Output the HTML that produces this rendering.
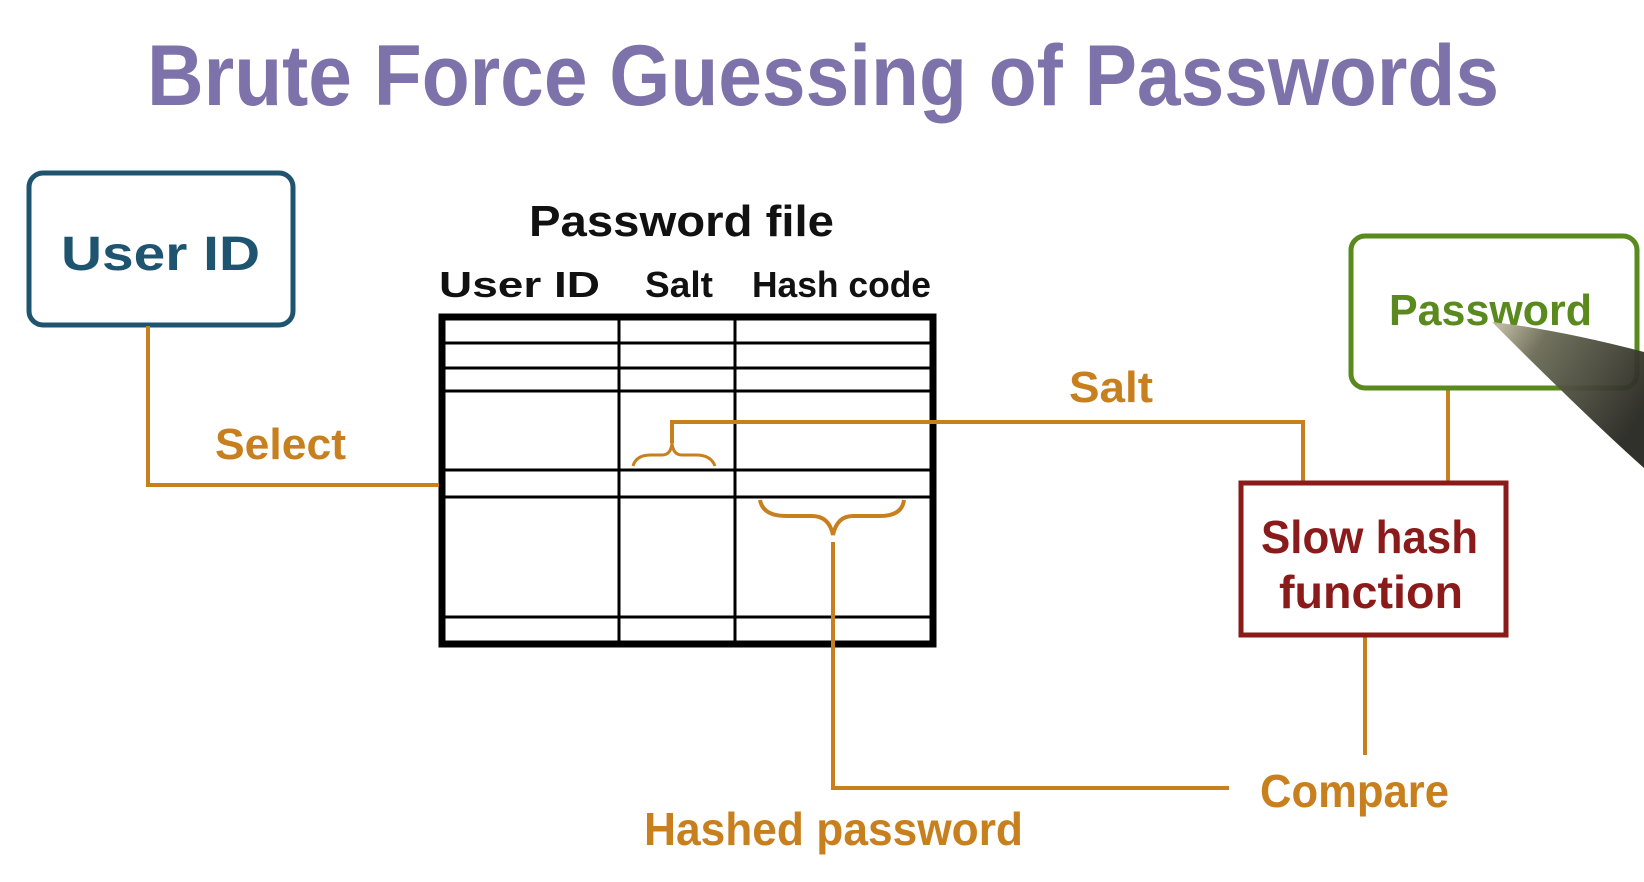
<!DOCTYPE html>
<html><head><meta charset="utf-8"><style>
html,body{margin:0;padding:0;background:#fff;}
svg{display:block;}
text{font-family:"Liberation Sans",sans-serif;font-weight:bold;}
</style></head><body>
<svg width="1644" height="882" viewBox="0 0 1644 882" xmlns="http://www.w3.org/2000/svg">
<rect width="1644" height="882" fill="#fff"/>
<text x="147" y="105" font-size="86" fill="#7d72aa" textLength="1352" lengthAdjust="spacingAndGlyphs">Brute Force Guessing of Passwords</text>

<rect x="29" y="173" width="264" height="152" rx="14" fill="none" stroke="#1e5470" stroke-width="5"/>
<text x="61" y="270" font-size="48" fill="#1e5470" textLength="199" lengthAdjust="spacingAndGlyphs">User ID</text>

<text x="529" y="236" font-size="44" fill="#111" textLength="305" lengthAdjust="spacingAndGlyphs">Password file</text>
<text x="439" y="297" font-size="36" fill="#111" textLength="161" lengthAdjust="spacingAndGlyphs">User ID</text>
<text x="645" y="297" font-size="36" fill="#111" textLength="68" lengthAdjust="spacingAndGlyphs">Salt</text>
<text x="752" y="297" font-size="36" fill="#111" textLength="179" lengthAdjust="spacingAndGlyphs">Hash code</text>

<rect x="442" y="317" width="491" height="327" fill="none" stroke="#000" stroke-width="7"/>
<g stroke="#000" stroke-width="3">
<line x1="444" y1="343" x2="931" y2="343"/>
<line x1="444" y1="368" x2="931" y2="368"/>
<line x1="444" y1="391" x2="931" y2="391"/>
<line x1="444" y1="470" x2="931" y2="470"/>
<line x1="444" y1="497" x2="931" y2="497"/>
<line x1="444" y1="617" x2="931" y2="617"/>
<line x1="619" y1="320" x2="619" y2="642"/>
<line x1="735" y1="320" x2="735" y2="642"/>
</g>

<g fill="none" stroke="#c8801e" stroke-width="4">
<polyline points="148,326 148,485 439,485"/>
<polyline points="672,443 672,422 1303,422 1303,481"/>
<line x1="1448" y1="390" x2="1448" y2="481"/>
<line x1="1365" y1="637" x2="1365" y2="755"/>
<polyline points="833,542 833,788 1229,788"/>
<path d="M633,466 Q636,455 651,455 L662,455 Q671,455 672,443 Q673,455 682,455 L696,455 Q711,455 715,466" stroke-width="3"/>
<path d="M760,500 Q763,516 786,516 L812,516 Q829,516 833,535 Q837,516 853,516 L880,516 Q902,516 904,500" stroke-width="4"/>
</g>

<text x="215" y="459" font-size="44" fill="#c8801e" textLength="131" lengthAdjust="spacingAndGlyphs">Select</text>
<text x="1069" y="402" font-size="44" fill="#c8801e" textLength="84" lengthAdjust="spacingAndGlyphs">Salt</text>

<rect x="1351" y="236" width="286" height="152" rx="14" fill="none" stroke="#5a8a1e" stroke-width="5"/>
<text x="1389" y="325" font-size="44" fill="#5a8a1e" textLength="203" lengthAdjust="spacingAndGlyphs">Password</text>

<rect x="1241" y="483" width="265" height="152" fill="none" stroke="#8b1a1a" stroke-width="5"/>
<text x="1261" y="553" font-size="46" fill="#8b1a1a" textLength="217" lengthAdjust="spacingAndGlyphs">Slow hash</text>
<text x="1279" y="608" font-size="46" fill="#8b1a1a" textLength="184" lengthAdjust="spacingAndGlyphs">function</text>

<text x="1260" y="807" font-size="46" fill="#c8801e" textLength="189" lengthAdjust="spacingAndGlyphs">Compare</text>
<text x="644" y="845" font-size="46" fill="#c8801e" textLength="379" lengthAdjust="spacingAndGlyphs">Hashed password</text>

<defs><linearGradient id="pg" x1="0" y1="0" x2="1" y2="0.6">
<stop offset="0" stop-color="#c9c3a8"/><stop offset="0.3" stop-color="#6a6a55"/><stop offset="1" stop-color="#262620"/></linearGradient></defs>
<path d="M1492,322 Q1560,330 1644,352 L1644,468 Q1590,420 1492,322 Z" fill="url(#pg)" opacity="0.95"/>
</svg>
</body></html>
